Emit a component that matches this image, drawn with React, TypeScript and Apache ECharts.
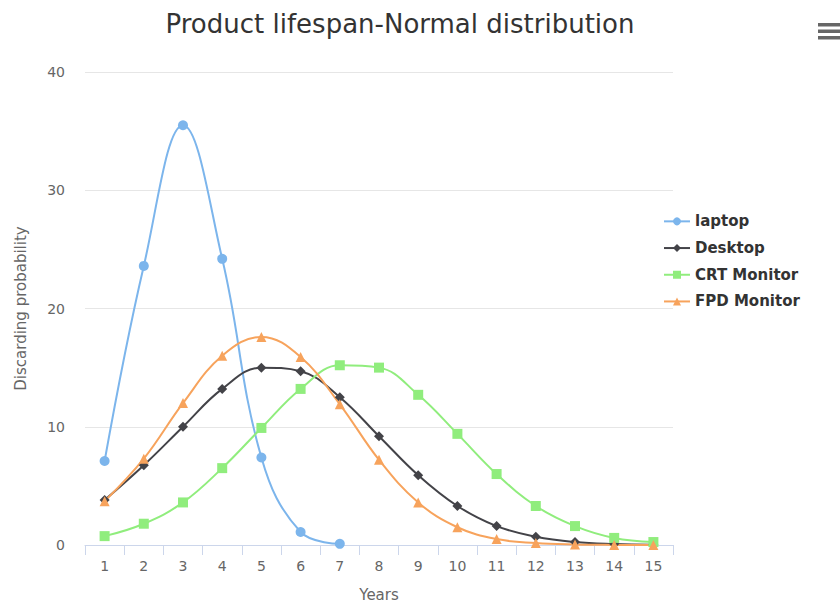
import React, { useEffect, useRef } from "react";
import * as echarts from "echarts";

const years = ["1", "2", "3", "4", "5", "6", "7", "8", "9", "10", "11", "12", "13", "14", "15"];
const laptop = [7.1, 23.6, 35.5, 24.2, 7.4, 1.1, 0.1];
const desktop = [3.8, 6.75, 10.0, 13.2, 15.0, 14.7, 12.5, 9.2, 5.9, 3.3, 1.6, 0.7, 0.25, 0.08, 0.02];
const crt = [0.75, 1.8, 3.6, 6.5, 9.9, 13.2, 15.2, 15.0, 12.7, 9.4, 6.0, 3.3, 1.6, 0.6, 0.25];
const fpd = [3.7, 7.3, 12.0, 16.0, 17.6, 15.9, 11.9, 7.2, 3.6, 1.5, 0.5, 0.17, 0.05, 0.01, 0.0];
const yTicks = [0, 10, 20, 30, 40];

const FONT = "'DejaVu Sans', Verdana, sans-serif";

export default function App() {
  const ref = useRef<HTMLDivElement>(null);
  useEffect(() => {
    const chart = echarts.init(ref.current!, null, { renderer: "svg" });
    const mk = (name: string, data: number[], color: string, symbol: string, size: number) => ({
      name,
      type: "line",
      data,
      smooth: 0.4,
      symbol,
      symbolSize: size,
      showSymbol: true,
      lineStyle: { width: 2, color },
      itemStyle: { color },
    });
    chart.setOption({
      animation: false,
      textStyle: { fontFamily: FONT },
      title: {
        text: "Product lifespan-Normal distribution",
        left: 395,
        top: 6,
        textAlign: "center",
        textStyle: { fontSize: 26, fontWeight: "normal", color: "#333333", fontFamily: FONT },
      },
      legend: {
        orient: "vertical",
        left: 658,
        top: 208,
        itemGap: 10,
        itemWidth: 26,
        itemHeight: 10,
        textStyle: { fontSize: 15, lineHeight: 16.7, fontWeight: "bold", color: "#333333", fontFamily: FONT },
        data: ["laptop", "Desktop", "CRT Monitor", "FPD Monitor"],
      },
      grid: { left: 85, right: 167, top: 72, bottom: 61, containLabel: false },
      xAxis: {
        type: "category",
        data: years,
        boundaryGap: true,
        name: "Years",
        nameLocation: "middle",
        nameGap: 42,
        nameTextStyle: { fontSize: 15, color: "#666666", fontFamily: FONT },
        axisLine: { lineStyle: { color: "#ccd6eb", width: 1 } },
        axisTick: { show: true, length: 10, lineStyle: { color: "#ccd6eb" } },
        axisLabel: { fontSize: 14, color: "#666666", margin: 14, fontFamily: FONT },
      },
      yAxis: {
        type: "value",
        min: 0,
        max: 40,
        interval: 10,
        name: "Discarding probability",
        nameLocation: "middle",
        nameGap: 57,
        nameTextStyle: { fontSize: 15, color: "#666666", fontFamily: FONT },
        axisLine: { show: false },
        axisTick: { show: false },
        axisLabel: { fontSize: 14, color: "#666666", margin: 20, fontFamily: FONT, formatter: (v: number) => (yTicks.includes(v) ? String(v) : "") },
        splitLine: { lineStyle: { color: "#e6e6e6", width: 1 } },
      },
      series: [
        mk("laptop", laptop, "#7cb5ec", "circle", 10),
        mk("Desktop", desktop, "#434348", "diamond", 10),
        mk("CRT Monitor", crt, "#90ed7d", "rect", 10),
        mk("FPD Monitor", fpd, "#f7a35c", "triangle", 10),
      ],
      graphic: [
        { type: "rect", shape: { x: 818, y: 23, width: 22, height: 3.5 }, style: { fill: "#666666" } },
        { type: "rect", shape: { x: 818, y: 29.5, width: 22, height: 3.5 }, style: { fill: "#666666" } },
        { type: "rect", shape: { x: 818, y: 36, width: 22, height: 3.5 }, style: { fill: "#666666" } },
      ],
    });
    return () => chart.dispose();
  }, []);
  return <div ref={ref} style={{ width: 840, height: 607, position: "absolute", left: 0, top: 0 }} />;
}
